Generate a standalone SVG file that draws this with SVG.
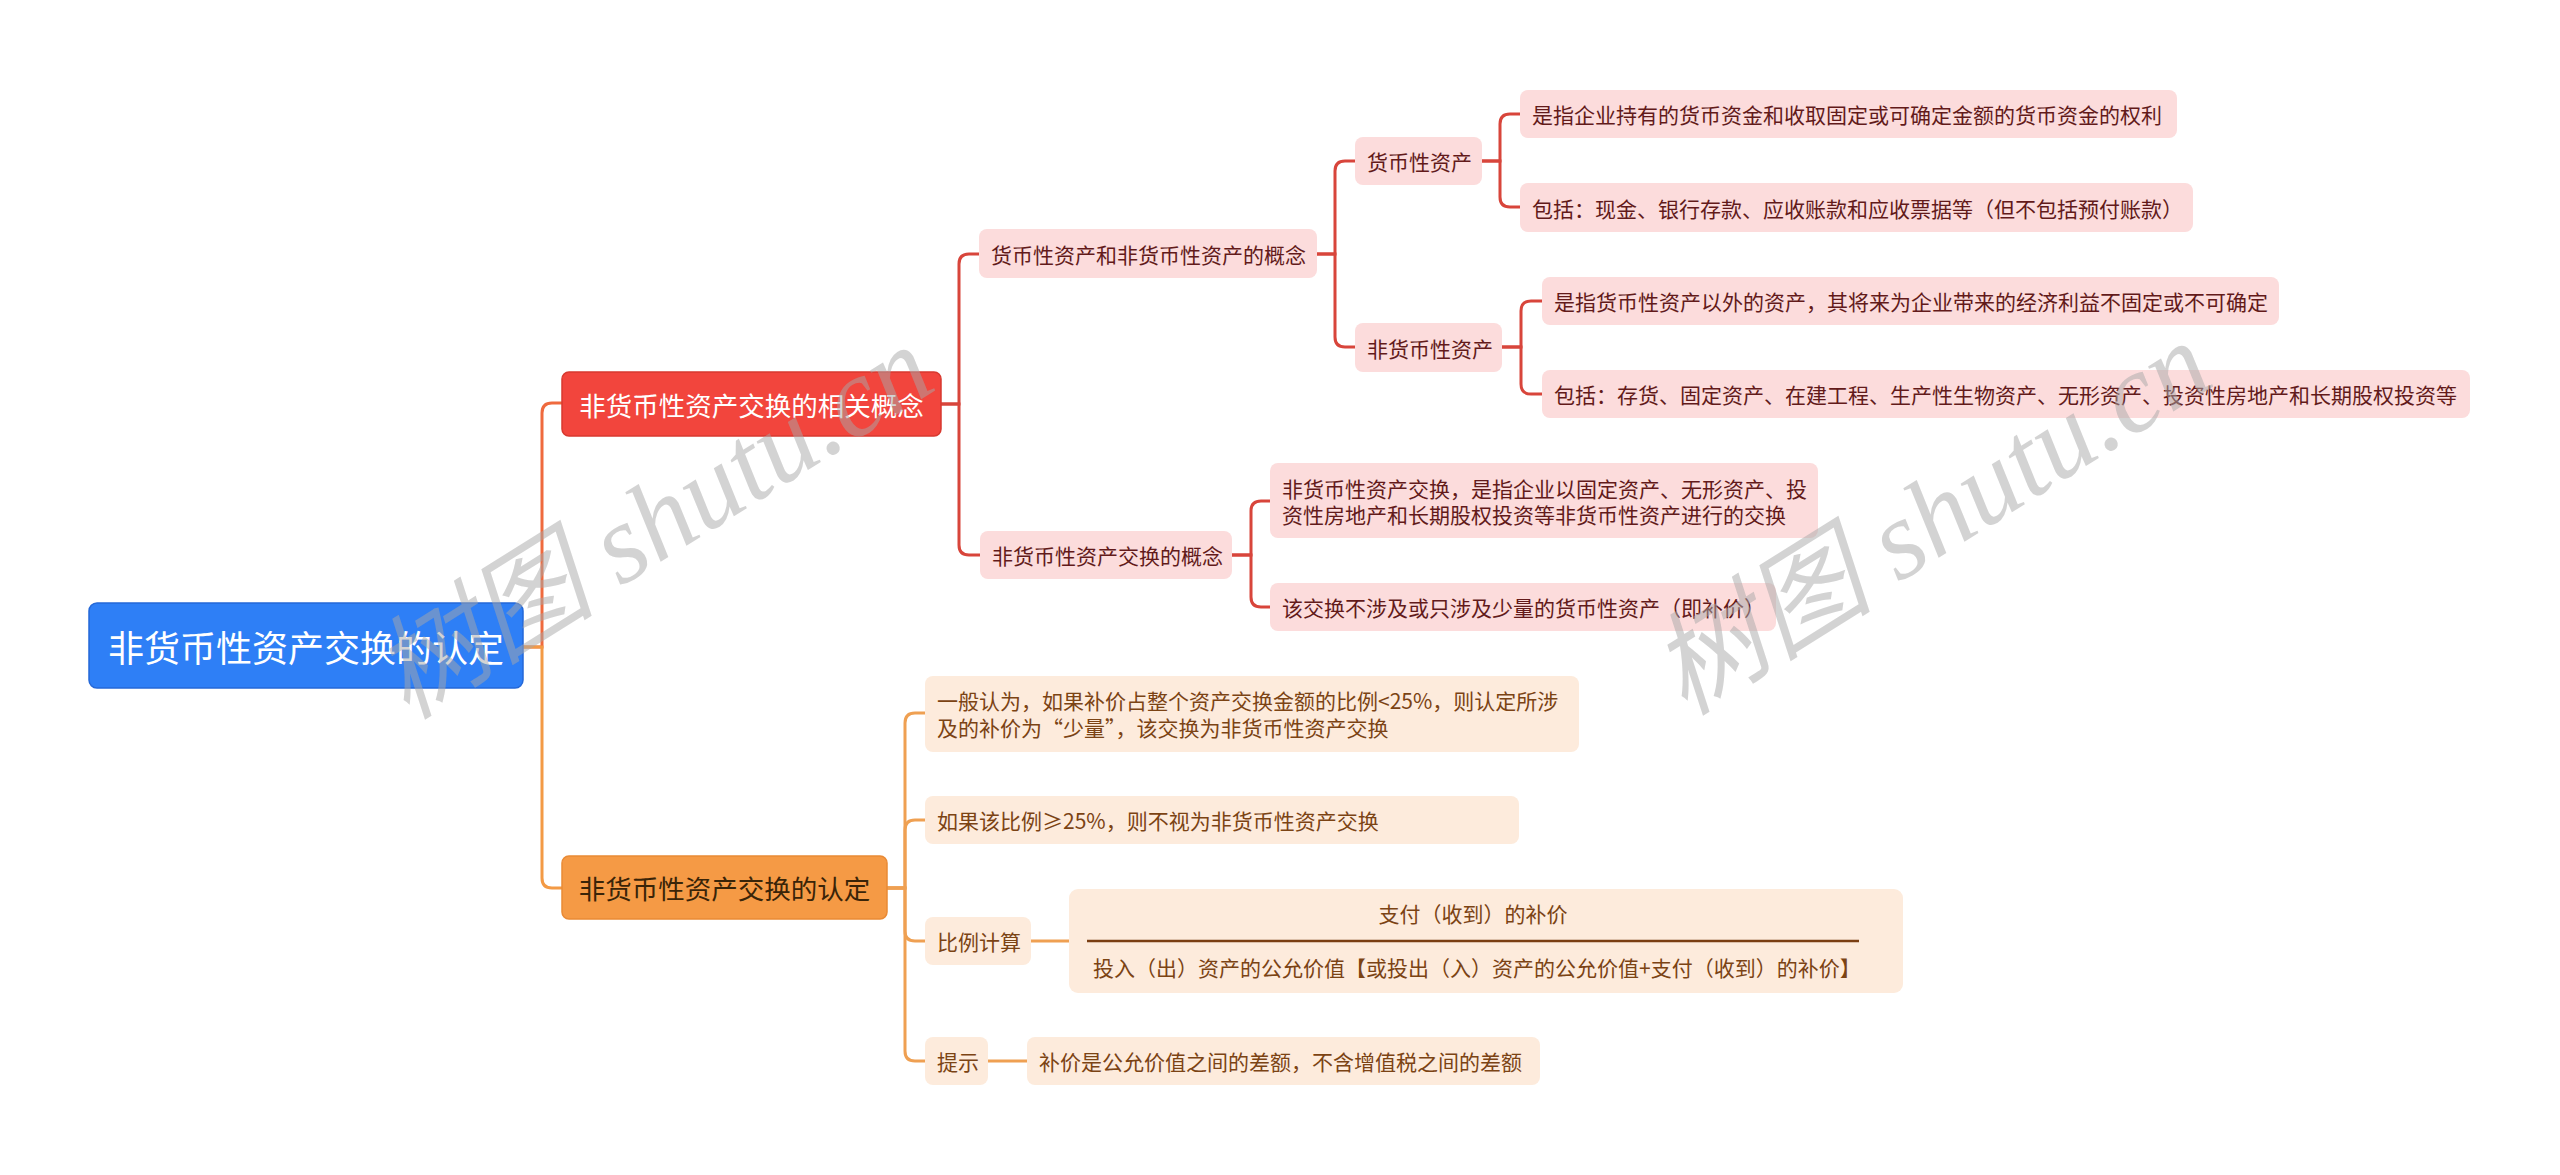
<svg xmlns="http://www.w3.org/2000/svg" width="2560" height="1175" viewBox="0 0 2560 1175">
<style>
text{font-family:"Noto Sans CJK SC","Liberation Sans",sans-serif;dominant-baseline:central}
.root rect{fill:#2e7ff6;stroke:#2468d8;stroke-width:1.5}
.root text{fill:#fff;font-size:36px}
.red rect{fill:#f2453d;stroke:#d8392f;stroke-width:1.5}
.red text{fill:#fff;font-size:26.5px}
.org rect{fill:#f59a45;stroke:#e98a35;stroke-width:1.5}
.org text{fill:#3a2408;font-size:26.5px}
.pk rect{fill:#fcdcdc}
.pk text{fill:#621a1a;font-size:21px}
.lo rect{fill:#fdebdc}
.lo text{fill:#7b4314;font-size:21px}
.c path{fill:none;stroke-width:3;stroke-linecap:round}
.cr path{stroke:#d8453b}
.co path{stroke:#efa052}
.wm{font-family:"Liberation Serif","Noto Sans CJK SC",serif;font-style:italic;font-size:112px;fill:#a8a8a8;fill-opacity:0.5}
</style>
<rect width="2560" height="1175" fill="#fff"/>
<g id="connectors" class="c">
  <path d="M523 647 H542 V413 Q542 403 552 403 H562" stroke="#ef6a3e" stroke-width="3.5"/>
  <path d="M523 647 H542 V878 Q542 888 552 888 H562" stroke="#f39a45" stroke-width="3.5"/>
  <g class="cr">
    <path d="M941 404 H959 V264 Q959 254 969 254 H979"/>
    <path d="M941 404 H959 V545 Q959 555 969 555 H980"/>
    <path d="M1317 254 H1335 V171 Q1335 161 1345 161 H1355"/>
    <path d="M1317 254 H1335 V337 Q1335 347 1345 347 H1355"/>
    <path d="M1482 161 H1500 V124 Q1500 114 1510 114 H1520"/>
    <path d="M1482 161 H1500 V197 Q1500 207 1510 207 H1520"/>
    <path d="M1502 347 H1521 V311 Q1521 301 1531 301 H1542"/>
    <path d="M1502 347 H1521 V384 Q1521 394 1531 394 H1542"/>
    <path d="M1232 555 H1251 V511 Q1251 501 1261 501 H1270"/>
    <path d="M1232 555 H1251 V597 Q1251 607 1261 607 H1270"/>
  </g>
  <g class="co">
    <path d="M887 888 H905 V723 Q905 713 915 713 H925"/>
    <path d="M887 888 H905 V830 Q905 820 915 820 H925"/>
    <path d="M887 888 H905 V931 Q905 941 915 941 H925"/>
    <path d="M887 888 H905 V1051 Q905 1061 915 1061 H925"/>
    <path d="M1031 941 H1069"/>
    <path d="M988 1061 H1027"/>
  </g>
</g>
<g id="root" class="root"><rect x="89" y="603" width="434" height="85" rx="8"/><text x="306" y="646" text-anchor="middle">非货币性资产交换的认定</text></g>
<g id="n1" class="red"><rect x="562" y="372" width="379" height="64" rx="7"/><text x="751.5" y="404" text-anchor="middle">非货币性资产交换的相关概念</text></g>
<g id="n2" class="org"><rect x="562" y="856" width="325" height="63" rx="7"/><text x="724.5" y="887.5" text-anchor="middle">非货币性资产交换的认定</text></g>
<g id="n1a" class="pk"><rect x="979" y="229" width="338" height="49" rx="8"/><text x="991" y="253.5">货币性资产和非货币性资产的概念</text></g>
<g id="n1a1" class="pk"><rect x="1355" y="137" width="127" height="48" rx="8"/><text x="1367" y="161">货币性资产</text></g>
<g id="n1a1a" class="pk"><rect x="1520" y="90" width="657" height="48" rx="8"/><text x="1532" y="114">是指企业持有的货币资金和收取固定或可确定金额的货币资金的权利</text></g>
<g id="n1a1b" class="pk"><rect x="1520" y="183" width="673" height="49" rx="8"/><text x="1532" y="207.5">包括：现金、银行存款、应收账款和应收票据等（但不包括预付账款）</text></g>
<g id="n1a2" class="pk"><rect x="1355" y="323" width="147" height="49" rx="8"/><text x="1367" y="347.5">非货币性资产</text></g>
<g id="n1a2a" class="pk"><rect x="1542" y="277" width="737" height="48" rx="8"/><text x="1554" y="301">是指货币性资产以外的资产，其将来为企业带来的经济利益不固定或不可确定</text></g>
<g id="n1a2b" class="pk"><rect x="1542" y="370" width="928" height="48" rx="8"/><text x="1554" y="394">包括：存货、固定资产、在建工程、生产性生物资产、无形资产、投资性房地产和长期股权投资等</text></g>
<g id="n1b" class="pk"><rect x="980" y="531" width="252" height="48" rx="8"/><text x="992" y="555">非货币性资产交换的概念</text></g>
<g id="n1b1" class="pk"><rect x="1270" y="463" width="548" height="75" rx="8"/><text x="1282" y="488">非货币性资产交换，是指企业以固定资产、无形资产、投</text><text x="1282" y="514">资性房地产和长期股权投资等非货币性资产进行的交换</text></g>
<g id="n1b2" class="pk"><rect x="1270" y="583" width="506" height="48" rx="8"/><text x="1282" y="607">该交换不涉及或只涉及少量的货币性资产（即补价）</text></g>
<g id="n2a" class="lo"><rect x="925" y="676" width="654" height="76" rx="8"/><text x="937" y="700">一般认为，如果补价占整个资产交换金额的比例&lt;25%，则认定所涉</text><text x="937" y="727">及的补价为“少量”，该交换为非货币性资产交换</text></g>
<g id="n2b" class="lo"><rect x="925" y="796" width="594" height="48" rx="8"/><text x="937" y="820">如果该比例≥25%，则不视为非货币性资产交换</text></g>
<g id="n2c" class="lo"><rect x="925" y="917" width="106" height="48" rx="8"/><text x="937" y="941">比例计算</text></g>
<g id="n2c1" class="lo"><rect x="1069" y="889" width="834" height="104" rx="9"/><text x="1473" y="913" text-anchor="middle">支付（收到）的补价</text><line x1="1087" y1="941" x2="1859" y2="941" stroke="#7a3e12" stroke-width="2.5"/><text x="1093" y="967">投入（出）资产的公允价值【或投出（入）资产的公允价值+支付（收到）的补价】</text></g>
<g id="n2d" class="lo"><rect x="925" y="1037" width="63" height="48" rx="8"/><text x="937" y="1061">提示</text></g>
<g id="n2d1" class="lo"><rect x="1027" y="1037" width="513" height="48" rx="8"/><text x="1039" y="1061">补价是公允价值之间的差额，不含增值税之间的差额</text></g>
<g id="watermark">
  <text class="wm" x="653" y="522" text-anchor="middle" transform="rotate(-32 653 522)">树图 shutu.cn</text>
  <text class="wm" x="1931" y="518" text-anchor="middle" transform="rotate(-32 1931 518)">树图 shutu.cn</text>
</g>
</svg>
